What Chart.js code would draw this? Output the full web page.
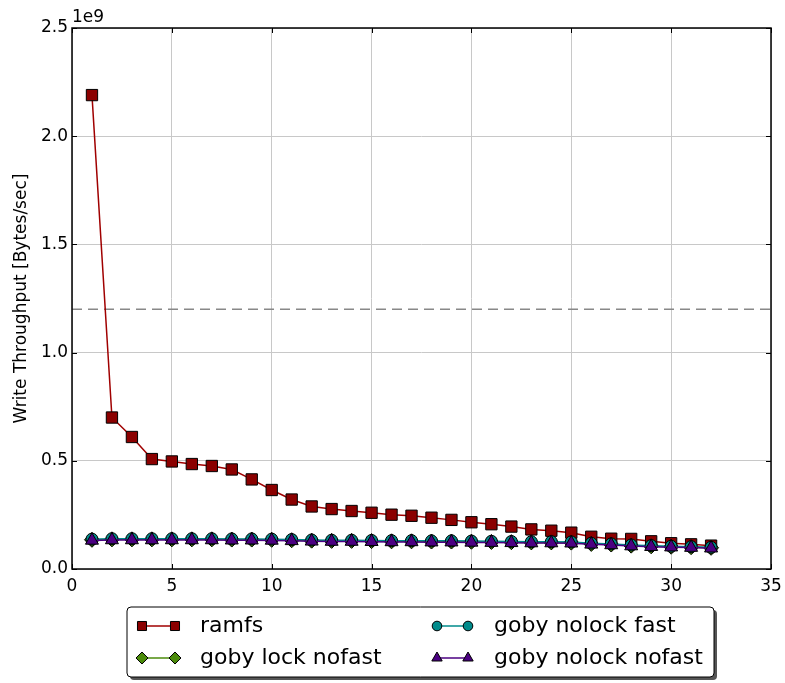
<!DOCTYPE html>
<html>
<head>
<meta charset="utf-8">
<script src="https://cdn.jsdelivr.net/npm/chart.js@4/dist/chart.umd.min.js"></script>
<style>
    html, body { margin: 0; padding: 0; background: #fff; }
    #wrap { width: 785px; height: 683px; }
</style>
</head>
<body>
<div id="wrap"><canvas id="chart" width="785" height="683"></canvas></div>
<script>
// thread counts on the x axis
const threads = [1, 2, 3, 4, 5, 6, 7, 8, 9, 10, 11, 12, 13, 14, 15, 16,
    17, 18, 19, 20, 21, 22, 23, 24, 25, 26, 27, 28, 29, 30, 31, 32];

// write throughput, in units of 1e9 bytes/sec
const ramfs = [2.19, 0.70, 0.61, 0.508, 0.497, 0.485, 0.476, 0.460, 0.414, 0.365, 0.321, 0.289,
    0.277, 0.268, 0.260, 0.251, 0.246, 0.237, 0.227, 0.216, 0.207, 0.196, 0.183, 0.177,
    0.168, 0.149, 0.140, 0.139, 0.128, 0.119, 0.114, 0.108];
const gobyLockNofast = [0.135, 0.137, 0.137, 0.137, 0.137, 0.137, 0.137, 0.136, 0.136, 0.135, 0.133, 0.131,
    0.130, 0.130, 0.129, 0.128, 0.128, 0.127, 0.127, 0.126, 0.125, 0.124, 0.123, 0.123,
    0.122, 0.116, 0.113, 0.108, 0.105, 0.103, 0.101, 0.098];
const gobyNolockFast = [0.138, 0.140, 0.140, 0.140, 0.140, 0.140, 0.140, 0.139, 0.139, 0.138, 0.136, 0.134,
    0.133, 0.133, 0.132, 0.131, 0.131, 0.130, 0.130, 0.129, 0.128, 0.127, 0.126, 0.126,
    0.125, 0.119, 0.116, 0.111, 0.108, 0.105, 0.103, 0.100];
const gobyNolockNofast = [0.132, 0.134, 0.134, 0.134, 0.134, 0.134, 0.134, 0.133, 0.133, 0.132, 0.130, 0.128,
    0.127, 0.127, 0.126, 0.125, 0.125, 0.124, 0.124, 0.123, 0.122, 0.121, 0.120, 0.120,
    0.119, 0.114, 0.111, 0.106, 0.103, 0.101, 0.099, 0.096];

// horizontal reference line (1e9 bytes/sec)
const refLineX = [0, 35];
const refLineY = [1.2, 1.2];

const xTicks = [0, 5, 10, 15, 20, 25, 30, 35];
const yTicks = [0.0, 0.5, 1.0, 1.5, 2.0, 2.5];

const FONT = "'DejaVu Sans', sans-serif";
const SCALE = 1e9;

const series = [
    { label: "ramfs", data: ramfs, color: "#8b0000", line: "#a00000", style: "rect", radius: 8 },
    { label: "goby lock nofast", data: gobyLockNofast, color: "#4b8b0b", line: "#4b8b0b", style: "rectRot", radius: 7.5 },
    { label: "goby nolock fast", data: gobyNolockFast, color: "#008b8b", line: "#008b8b", style: "circle", radius: 6 },
    { label: "goby nolock nofast", data: gobyNolockNofast, color: "#4b0082", line: "#4b0082", style: "triangle", radius: 7.5 },
];

function toPoints(xs, ys) {
    return xs.map((x, i) => ({ x: x, y: ys[i] * SCALE }));
}

const datasets = series.map((s, i) => ({
    label: s.label,
    data: toPoints(threads, s.data),
    borderColor: s.line,
    borderWidth: 1.5,
    pointStyle: s.style,
    pointRadius: s.radius,
    pointBackgroundColor: s.color,
    pointBorderColor: "#000",
    pointBorderWidth: 1,
    order: series.length - i, // first series drawn at the bottom
}));

datasets.push({
    label: "ref",
    data: toPoints(refLineX, refLineY),
    borderColor: "#888",
    borderWidth: 1.5,
    borderDash: [10, 6],
    pointRadius: 0,
    order: 10,
});

// frame, inward ticks, offset label and legend box
const framePlugin = {
    id: "frame",
    afterDraw(chart) {
        const ctx = chart.ctx;
        const a = chart.chartArea;
        const xs = chart.scales.x;
        const ys = chart.scales.y;
        ctx.save();
        ctx.strokeStyle = "#000";
        ctx.lineWidth = 1;
        xTicks.forEach((t) => {
            const px = Math.round(xs.getPixelForValue(t)) + 0.5;
            ctx.beginPath();
            ctx.moveTo(px, a.bottom); ctx.lineTo(px, a.bottom - 5);
            ctx.moveTo(px, a.top); ctx.lineTo(px, a.top + 5);
            ctx.stroke();
        });
        yTicks.forEach((t) => {
            const py = Math.round(ys.getPixelForValue(t * SCALE)) + 0.5;
            ctx.beginPath();
            ctx.moveTo(a.left, py); ctx.lineTo(a.left + 5, py);
            ctx.moveTo(a.right, py); ctx.lineTo(a.right - 5, py);
            ctx.stroke();
        });
        ctx.lineWidth = 1.5;
        ctx.strokeRect(a.left, a.top, a.right - a.left, a.bottom - a.top);

        ctx.fillStyle = "#000";
        ctx.font = "17px " + FONT;
        ctx.textAlign = "left";
        ctx.textBaseline = "alphabetic";
        ctx.fillText("1e9", a.left, a.top - 6);

        // legend
        const bx = 127, by = 607, bw = 587, bh = 70;
        ctx.fillStyle = "#555";
        ctx.beginPath();
        ctx.roundRect(bx + 3, by + 3, bw, bh, 4);
        ctx.fill();
        ctx.fillStyle = "#fff";
        ctx.beginPath();
        ctx.roundRect(bx, by, bw, bh, 4);
        ctx.fill();
        ctx.lineWidth = 1;
        ctx.strokeStyle = "#000";
        ctx.stroke();

        const slots = [
            { x0: 142, x1: 175, tx: 200, y: 626 },
            { x0: 142, x1: 175, tx: 200, y: 658 },
            { x0: 437, x1: 468, tx: 494, y: 626 },
            { x0: 437, x1: 468, tx: 494, y: 658 },
        ];
        series.forEach((s, i) => {
            const sl = slots[i];
            ctx.strokeStyle = s.line;
            ctx.lineWidth = 1.5;
            ctx.beginPath();
            ctx.moveTo(sl.x0, sl.y); ctx.lineTo(sl.x1, sl.y);
            ctx.stroke();
            const opts = {
                pointStyle: s.style, radius: s.radius * 0.8, rotation: 0, borderWidth: 1,
            };
            ctx.fillStyle = s.color;
            ctx.strokeStyle = "#000";
            ctx.lineWidth = 1;
            Chart.helpers.drawPoint(ctx, opts, sl.x0, sl.y);
            Chart.helpers.drawPoint(ctx, opts, sl.x1, sl.y);
            ctx.fillStyle = "#000";
            ctx.font = "22px " + FONT;
            ctx.textBaseline = "middle";
            ctx.fillText(s.label, sl.tx, sl.y);
        });
        ctx.restore();
    },
};

new Chart(document.getElementById("chart"), {
    type: "line",
    data: { datasets: datasets },
    options: {
        responsive: false,
        animation: false,
        devicePixelRatio: 1,
        layout: { padding: { top: 28, right: 14, left: 0, bottom: 0 } },
        plugins: {
            legend: { display: false },
            tooltip: { enabled: false },
        },
        scales: {
            x: {
                type: "linear",
                min: 0,
                max: 35,
                afterBuildTicks: (scale) => { scale.ticks = xTicks.map((v) => ({ value: v })); },
                afterFit: (scale) => {
                    scale.height = 114;
                    scale.paddingLeft = 0;
                    scale.paddingRight = 0;
                },
                grid: { color: "#c8c8c8", lineWidth: 1, drawTicks: false },
                border: { display: false },
                ticks: { font: { family: FONT, size: 17 }, color: "#000", padding: 7 },
            },
            y: {
                min: 0,
                max: 2.5 * SCALE,
                afterBuildTicks: (scale) => { scale.ticks = yTicks.map((v) => ({ value: v * SCALE })); },
                afterFit: (scale) => { scale.width = 72; },
                grid: { color: "#c8c8c8", lineWidth: 1, drawTicks: false },
                border: { display: false },
                ticks: {
                    font: { family: FONT, size: 17 },
                    color: "#000",
                    padding: 4,
                    callback: (v) => (v / SCALE).toFixed(1),
                },
                title: {
                    display: true,
                    text: "Write Throughput [Bytes/sec]",
                    font: { family: FONT, size: 17 },
                    color: "#000",
                    padding: { top: 11, bottom: 0 },
                },
            },
        },
    },
    plugins: [framePlugin],
});
</script>
</body>
</html>
